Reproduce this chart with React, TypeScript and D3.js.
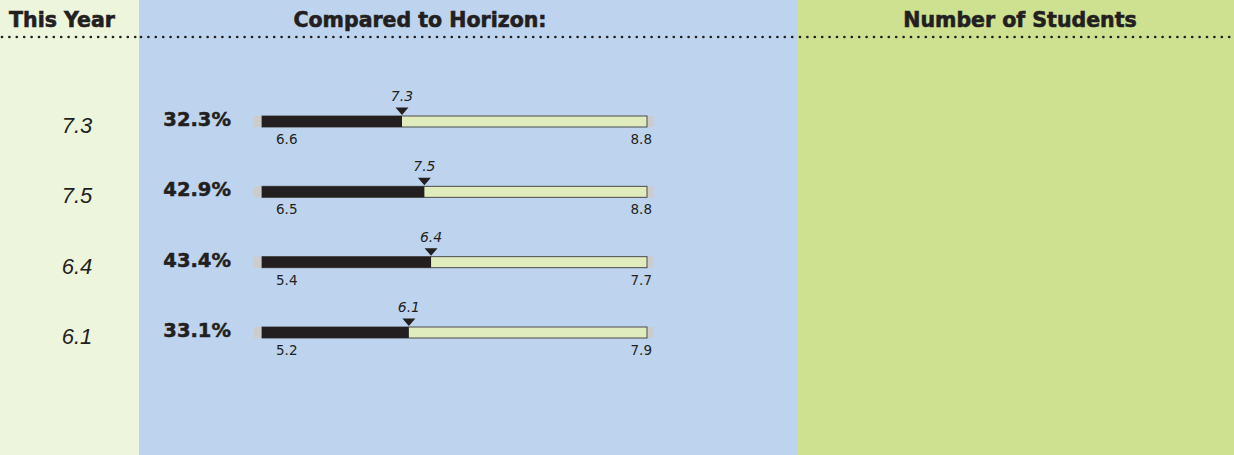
import * as d3 from 'd3'

const columns = ['This Year', 'Compared to Horizon:', 'Number of Students']
const thisYear = [7.3, 7.5, 6.4, 6.1]
const percentVsHorizon = [32.3, 42.9, 43.4, 33.1]
const rangeMin = [6.6, 6.5, 5.4, 5.2]
const rangeMax = [8.8, 8.8, 7.7, 7.9]
// where the marker sits on each bar
const markerValues = [7.4, 7.47, 6.41, 6.23]

const W = 1234
const H = 455
const COL_BG = ['#eef5dd', '#bed4ee', '#cde191']
const colEdges = [0, 139, 798, W]
const headerX = [62, 420, 1020]
const INK = '#231f20'

export default function App() {
  const rowY = d3.scaleLinear().domain([0, 3]).range([116, 327])
  const barH = 11

  return (
    <svg
      width={W}
      height={H}
      style={{ position: 'absolute', left: 0, top: 0, display: 'block' }}
    >
      {/* column backgrounds */}
      {COL_BG.map((c, i) => (
        <rect key={i} x={colEdges[i]} y={0} width={colEdges[i + 1] - colEdges[i]} height={H} fill={c} />
      ))}

      {/* headers */}
      {columns.map((t, i) => (
        <text
          key={t}
          x={headerX[i]}
          y={27}
          textAnchor="middle"
          fontFamily="DejaVu Sans, Verdana, sans-serif"
          fontWeight="bold"
          fontSize={20.5}
          fill={INK}
          stroke={INK}
          strokeWidth={0.6}
        >
          {t}
        </text>
      ))}

      {/* dotted rules under headers, one per column */}
      {COL_BG.map((_, i) => (
        <line
          key={i}
          x1={colEdges[i] + 2}
          x2={colEdges[i + 1] - 2}
          y1={37}
          y2={37}
          stroke={INK}
          strokeWidth={2.7}
          strokeLinecap="round"
          strokeDasharray="0 7.4"
        />
      ))}

      {thisYear.map((v, i) => {
        const x = d3.scaleLinear().domain([rangeMin[i], rangeMax[i]]).range([262, 647])
        const y0 = rowY(i)
        const mx = x(markerValues[i])
        return (
          <g key={i}>
            {/* this year value */}
            <text
              x={77}
              y={y0 + 17}
              textAnchor="middle"
              fontFamily="Liberation Sans, Arial, sans-serif"
              fontStyle="italic"
              fontSize={22}
              fill={INK}
            >
              {v.toFixed(1)}
            </text>

            {/* percent */}
            <text
              x={231}
              y={y0 + 10}
              textAnchor="end"
              fontFamily="DejaVu Sans, Verdana, sans-serif"
              fontWeight="bold"
              fontSize={19.5}
              fill={INK}
              stroke={INK}
              strokeWidth={0.5}
            >
              {percentVsHorizon[i].toFixed(1)}%
            </text>

            {/* bar */}
            <rect x={x.range()[0] - 8} y={y0} width={x.range()[1] - x.range()[0] + 15} height={barH} fill="#cccccc" />
            <rect
              x={x.range()[0]}
              y={y0}
              width={x.range()[1] - x.range()[0]}
              height={barH}
              fill="#e1ecbe"
              stroke="#4a4a4a"
              strokeWidth={1}
            />
            <rect x={x.range()[0]} y={y0} width={mx - x.range()[0]} height={barH} fill={INK} />

            {/* marker */}
            <path d={`M${mx - 6.5},${y0 - 8.5}L${mx + 6.5},${y0 - 8.5}L${mx},${y0 - 1}Z`} fill={INK} />
            <text
              x={mx}
              y={y0 - 15}
              textAnchor="middle"
              fontFamily="DejaVu Sans, Verdana, sans-serif"
              fontStyle="italic"
              fontSize={14}
              fill={INK}
            >
              {v.toFixed(1)}
            </text>

            {/* range ends */}
            <text
              x={x.range()[0] + 14}
              y={y0 + 28}
              fontFamily="DejaVu Sans, Verdana, sans-serif"
              fontSize={13.5}
              fill={INK}
            >
              {rangeMin[i].toFixed(1)}
            </text>
            <text
              x={x.range()[1] + 5}
              y={y0 + 28}
              textAnchor="end"
              fontFamily="DejaVu Sans, Verdana, sans-serif"
              fontSize={13.5}
              fill={INK}
            >
              {rangeMax[i].toFixed(1)}
            </text>
          </g>
        )
      })}
    </svg>
  )
}
